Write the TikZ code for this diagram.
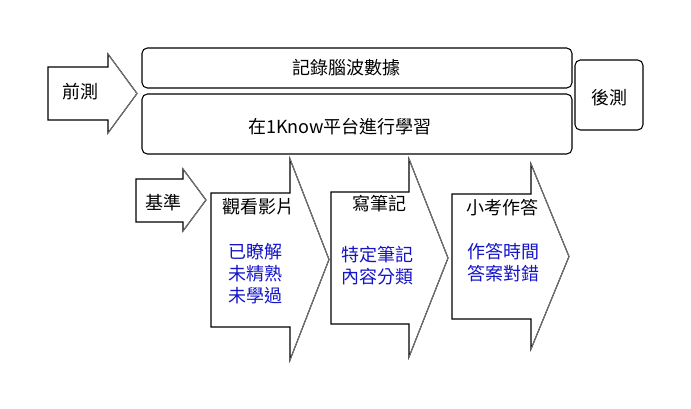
\documentclass[tikz,border=0pt]{standalone}
\usepackage{fontspec}
\newfontfamily\cjk{Noto Sans CJK TC}
\definecolor{textblue}{RGB}{20,20,200}
\definecolor{diaggray}{RGB}{120,120,120}
\tikzset{
  shapeline/.style={draw=black, line width=0.8pt, fill=white, line join=miter},
  diagline/.style={draw=diaggray, line width=0.7pt},
  roundbox/.style={draw=black, line width=0.8pt, rounded corners=4pt},
  lbl/.style={font=\cjk\fontsize{13.5}{16.5}\selectfont, inner sep=0pt, text=black},
  bluelbl/.style={lbl, text=textblue, align=left},
}
\begin{document}
\begin{tikzpicture}[x=0.75pt, y=-0.75pt]
\useasboundingbox (0,0) rectangle (691,408);
% top rounded boxes
\draw[roundbox] (142,48) rectangle (572,88);
\draw[roundbox] (142,94) rectangle (572,154);
\draw[roundbox] (575,60) rectangle (643,130);
\node[lbl] (rec) at (346,68) {記錄腦波數據};
\node[lbl] (learn) at (340,127) {在1Know平台進行學習};
\node[lbl] (post) at (609,98) {後測};
% pre-test arrow
\draw[shapeline] (48,67) -- (108,67) -- (108,54) -- (137,93.5) -- (108,133) -- (108,120) -- (48,120) -- cycle;
\draw[diagline] (108,54) -- (137,93.5) -- (108,133);
\node[lbl] (pre) at (80,92) {前測};
% baseline arrow
\draw[shapeline] (136,179) -- (183,179) -- (183,169) -- (206,200) -- (183,231) -- (183,222) -- (136,222) -- cycle;
\draw[diagline] (183,169) -- (206,200) -- (183,231);
\node[lbl] (base) at (163,203) {基準};
% watch video arrow
\draw[shapeline] (211,193) -- (290,193) -- (290,159) -- (329,259.5) -- (290,360) -- (290,327) -- (211,327) -- cycle;
\draw[diagline] (290,159) -- (329,259.5) -- (290,360);
\node[lbl] (watch) at (258.5,207) {觀看影片};
\node[bluelbl, anchor=west] (watchsub) at (228,274) {已瞭解\\未精熟\\未學過};
% notes arrow
\draw[shapeline] (331,192) -- (409,192) -- (409,159) -- (448,258) -- (409,357) -- (409,324) -- (331,324) -- cycle;
\draw[diagline] (409,159) -- (448,258) -- (409,357);
\node[lbl] (notes) at (379.5,204) {寫筆記};
\node[bluelbl] (notessub) at (377.5,266) {特定筆記\\內容分類};
% quiz arrow
\draw[shapeline] (452,194) -- (531,194) -- (531,164) -- (569,256.5) -- (531,349) -- (531,319) -- (452,319) -- cycle;
\draw[diagline] (531,164) -- (569,256.5) -- (531,349);
\node[lbl] (quiz) at (502,208) {小考作答};
\node[bluelbl] (quizsub) at (503,263) {作答時間\\答案對錯};
\end{tikzpicture}
\end{document}
